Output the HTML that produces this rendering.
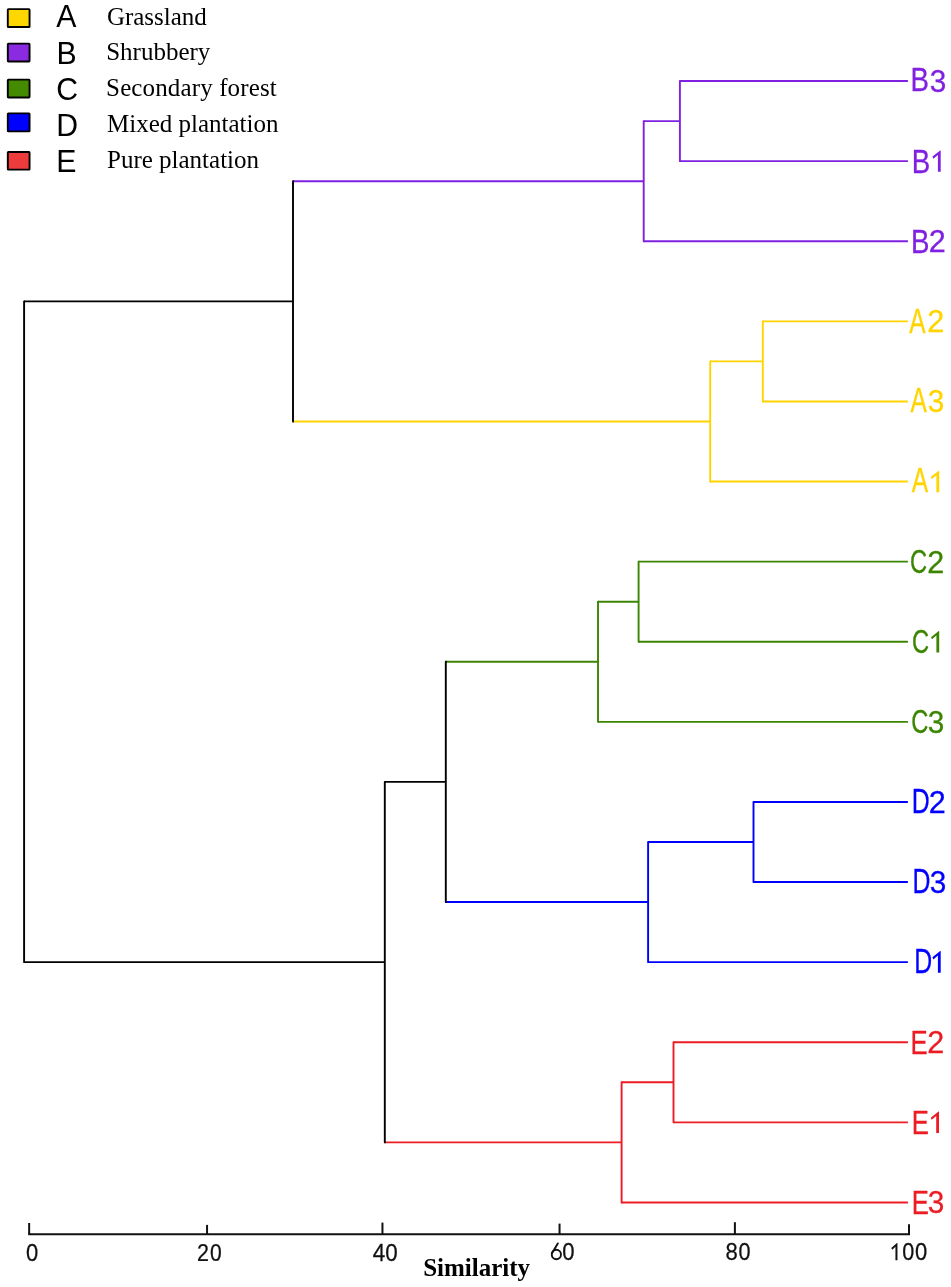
<!DOCTYPE html>
<html><head><meta charset="utf-8"><style>
html,body{margin:0;padding:0;background:#fff;}
body{width:951px;height:1287px;overflow:hidden;}
svg{display:block;will-change:transform;}
text{font-family:"Liberation Sans",sans-serif;}
.ds{font-family:"Liberation Serif",serif;font-size:25px;fill:#000;}
.ttl{font-family:"Liberation Serif",serif;font-size:25px;font-weight:bold;fill:#000;}
</style></head><body>
<svg width="951" height="1287" viewBox="0 0 951 1287">
<g stroke-width="1.9" stroke-linecap="butt" stroke-linejoin="round" fill="none">
<line x1="679.90" y1="81.05" x2="907.90" y2="81.05" stroke="#8020e0"/>
<line x1="679.90" y1="161.15" x2="907.90" y2="161.15" stroke="#8020e0"/>
<line x1="643.70" y1="121.10" x2="679.90" y2="121.10" stroke="#8020e0"/>
<line x1="643.70" y1="241.25" x2="907.90" y2="241.25" stroke="#8020e0"/>
<line x1="762.80" y1="321.35" x2="907.90" y2="321.35" stroke="#ffd400"/>
<line x1="762.80" y1="401.45" x2="907.90" y2="401.45" stroke="#ffd400"/>
<line x1="710.20" y1="361.40" x2="762.80" y2="361.40" stroke="#ffd400"/>
<line x1="710.20" y1="481.55" x2="907.90" y2="481.55" stroke="#ffd400"/>
<line x1="293.00" y1="181.18" x2="643.70" y2="181.18" stroke="#8020e0"/>
<line x1="293.00" y1="421.48" x2="710.20" y2="421.48" stroke="#ffd400"/>
<line x1="638.60" y1="561.65" x2="907.90" y2="561.65" stroke="#3c8500"/>
<line x1="638.60" y1="641.75" x2="907.90" y2="641.75" stroke="#3c8500"/>
<line x1="598.00" y1="601.70" x2="638.60" y2="601.70" stroke="#3c8500"/>
<line x1="598.00" y1="721.85" x2="907.90" y2="721.85" stroke="#3c8500"/>
<line x1="753.50" y1="801.95" x2="907.90" y2="801.95" stroke="#0000ff"/>
<line x1="753.50" y1="882.05" x2="907.90" y2="882.05" stroke="#0000ff"/>
<line x1="648.10" y1="842.00" x2="753.50" y2="842.00" stroke="#0000ff"/>
<line x1="648.10" y1="962.15" x2="907.90" y2="962.15" stroke="#0000ff"/>
<line x1="445.80" y1="661.77" x2="598.00" y2="661.77" stroke="#3c8500"/>
<line x1="445.80" y1="902.07" x2="648.10" y2="902.07" stroke="#0000ff"/>
<line x1="673.50" y1="1042.25" x2="907.90" y2="1042.25" stroke="#eb1c24"/>
<line x1="673.50" y1="1122.35" x2="907.90" y2="1122.35" stroke="#eb1c24"/>
<line x1="621.60" y1="1082.30" x2="673.50" y2="1082.30" stroke="#eb1c24"/>
<line x1="621.60" y1="1202.45" x2="907.90" y2="1202.45" stroke="#eb1c24"/>
<line x1="384.80" y1="781.92" x2="445.80" y2="781.92" stroke="#000000"/>
<line x1="384.80" y1="1142.38" x2="621.60" y2="1142.38" stroke="#eb1c24"/>
<line x1="24.10" y1="301.33" x2="293.00" y2="301.33" stroke="#000000"/>
<line x1="24.10" y1="962.15" x2="384.80" y2="962.15" stroke="#000000"/>
<path d="M680.85,81.05H679.90V161.15H680.85" stroke="#8020e0"/>
<path d="M644.65,121.10H643.70V241.25H644.65" stroke="#8020e0"/>
<path d="M763.75,321.35H762.80V401.45H763.75" stroke="#ffd400"/>
<path d="M711.15,361.40H710.20V481.55H711.15" stroke="#ffd400"/>
<path d="M293.95,181.18H293.00V421.48H293.95" stroke="#000000"/>
<path d="M639.55,561.65H638.60V641.75H639.55" stroke="#3c8500"/>
<path d="M598.95,601.70H598.00V721.85H598.95" stroke="#3c8500"/>
<path d="M754.45,801.95H753.50V882.05H754.45" stroke="#0000ff"/>
<path d="M649.05,842.00H648.10V962.15H649.05" stroke="#0000ff"/>
<path d="M446.75,661.77H445.80V902.07H446.75" stroke="#000000"/>
<path d="M674.45,1042.25H673.50V1122.35H674.45" stroke="#eb1c24"/>
<path d="M622.55,1082.30H621.60V1202.45H622.55" stroke="#eb1c24"/>
<path d="M385.75,781.92H384.80V1142.38H385.75" stroke="#000000"/>
<path d="M25.05,301.33H24.10V962.15H25.05" stroke="#000000"/>
</g>
<text transform="translate(910.56,91.33) scale(0.815,1)" font-size="33.96" fill="#8020e0" stroke="#8020e0" stroke-width="0.3">B</text>
<text transform="translate(929.72,91.66) scale(0.956,1)" font-size="31.10" fill="#8020e0" stroke="#8020e0" stroke-width="0.3">3</text>
<text transform="translate(911.81,173.03) scale(0.815,1)" font-size="33.96" fill="#8020e0" stroke="#8020e0" stroke-width="0.3">B</text>
<path d="M940.20,150.40 L940.70,150.40 L940.70,171.80 L937.90,171.80 L937.90,154.89 L933.40,158.75 L932.40,156.61 Z" fill="#8020e0"/>
<text transform="translate(911.06,252.63) scale(0.815,1)" font-size="33.96" fill="#8020e0" stroke="#8020e0" stroke-width="0.3">B</text>
<text transform="translate(928.80,251.80) scale(0.988,1)" font-size="30.93" fill="#8020e0" stroke="#8020e0" stroke-width="0.3">2</text>
<text transform="translate(909.22,333.47) scale(0.705,1)" font-size="34.79" fill="#ffd400" stroke="#ffd400" stroke-width="0.3">A</text>
<text transform="translate(927.30,332.15) scale(0.988,1)" font-size="30.93" fill="#ffd400" stroke="#ffd400" stroke-width="0.3">2</text>
<text transform="translate(910.62,412.17) scale(0.705,1)" font-size="34.79" fill="#ffd400" stroke="#ffd400" stroke-width="0.3">A</text>
<text transform="translate(927.87,411.91) scale(0.956,1)" font-size="31.10" fill="#ffd400" stroke="#ffd400" stroke-width="0.3">3</text>
<text transform="translate(911.82,492.17) scale(0.705,1)" font-size="34.79" fill="#ffd400" stroke="#ffd400" stroke-width="0.3">A</text>
<path d="M938.70,470.70 L939.20,470.70 L939.20,492.20 L936.40,492.20 L936.40,475.22 L931.70,479.09 L930.70,476.94 Z" fill="#ffd400"/>
<text transform="translate(910.10,572.67) scale(0.699,1)" font-size="33.90" fill="#3c8500" stroke="#3c8500" stroke-width="0.3">C</text>
<text transform="translate(927.20,572.50) scale(0.988,1)" font-size="30.93" fill="#3c8500" stroke="#3c8500" stroke-width="0.3">2</text>
<text transform="translate(911.90,653.37) scale(0.699,1)" font-size="33.90" fill="#3c8500" stroke="#3c8500" stroke-width="0.3">C</text>
<path d="M938.70,630.90 L939.20,630.90 L939.20,652.50 L936.40,652.50 L936.40,635.44 L932.00,639.32 L931.00,637.16 Z" fill="#3c8500"/>
<text transform="translate(911.30,732.67) scale(0.699,1)" font-size="33.90" fill="#3c8500" stroke="#3c8500" stroke-width="0.3">C</text>
<text transform="translate(927.87,732.51) scale(0.956,1)" font-size="31.10" fill="#3c8500" stroke="#3c8500" stroke-width="0.3">3</text>
<text transform="translate(911.79,813.38) scale(0.723,1)" font-size="34.40" fill="#0000ff" stroke="#0000ff" stroke-width="0.3">D</text>
<text transform="translate(928.80,812.70) scale(0.988,1)" font-size="30.93" fill="#0000ff" stroke="#0000ff" stroke-width="0.3">2</text>
<text transform="translate(912.39,892.93) scale(0.723,1)" font-size="34.40" fill="#0000ff" stroke="#0000ff" stroke-width="0.3">D</text>
<text transform="translate(929.72,892.66) scale(0.956,1)" font-size="31.10" fill="#0000ff" stroke="#0000ff" stroke-width="0.3">3</text>
<text transform="translate(914.19,973.48) scale(0.723,1)" font-size="34.40" fill="#0000ff" stroke="#0000ff" stroke-width="0.3">D</text>
<path d="M940.20,950.90 L940.70,950.90 L940.70,972.70 L937.90,972.70 L937.90,955.48 L933.40,959.40 L932.40,957.22 Z" fill="#0000ff"/>
<text transform="translate(910.42,1053.97) scale(0.758,1)" font-size="33.92" fill="#eb1c24" stroke="#eb1c24" stroke-width="0.3">E</text>
<text transform="translate(927.20,1053.05) scale(0.988,1)" font-size="30.93" fill="#eb1c24" stroke="#eb1c24" stroke-width="0.3">2</text>
<text transform="translate(911.82,1133.62) scale(0.758,1)" font-size="33.92" fill="#eb1c24" stroke="#eb1c24" stroke-width="0.3">E</text>
<path d="M938.50,1111.40 L939.00,1111.40 L939.00,1133.00 L936.20,1133.00 L936.20,1115.94 L931.70,1119.82 L930.70,1117.66 Z" fill="#eb1c24"/>
<text transform="translate(911.82,1214.22) scale(0.758,1)" font-size="33.92" fill="#eb1c24" stroke="#eb1c24" stroke-width="0.3">E</text>
<text transform="translate(927.87,1212.86) scale(0.956,1)" font-size="31.10" fill="#eb1c24" stroke="#eb1c24" stroke-width="0.3">3</text>
<line x1="28.2" y1="1234.3" x2="910" y2="1234.3" stroke="#111" stroke-width="2.1"/>
<line x1="29.15" y1="1223.0" x2="29.15" y2="1234.3" stroke="#111" stroke-width="2"/>
<line x1="207.05" y1="1224.9" x2="207.05" y2="1234.3" stroke="#111" stroke-width="2"/>
<line x1="382.45" y1="1222.6" x2="382.45" y2="1234.3" stroke="#111" stroke-width="2"/>
<line x1="559.55" y1="1223.6" x2="559.55" y2="1234.3" stroke="#111" stroke-width="2"/>
<line x1="734.9" y1="1222.2" x2="734.9" y2="1234.3" stroke="#111" stroke-width="2"/>
<line x1="909.0" y1="1224.2" x2="909.0" y2="1234.3" stroke="#111" stroke-width="2"/>
<text transform="translate(25.99,1261.41) scale(0.928,1)" font-size="23.70" fill="#111" stroke="#111" stroke-width="0.25">0</text>
<text transform="translate(196.98,1261.42) scale(0.906,1)" font-size="23.70" fill="#111" stroke="#111" stroke-width="0.25">2</text>
<text transform="translate(209.89,1261.31) scale(0.889,1)" font-size="23.70" fill="#111" stroke="#111" stroke-width="0.25">0</text>
<text transform="translate(372.71,1260.65) scale(0.950,1)" font-size="23.70" fill="#111" stroke="#111" stroke-width="0.25">4</text>
<text transform="translate(385.27,1260.81) scale(0.945,1)" font-size="23.70" fill="#111" stroke="#111" stroke-width="0.25">0</text>
<g fill="none" stroke="#111" stroke-width="1.9" stroke-linecap="round"><ellipse cx="556.36" cy="1254.5" rx="4.6" ry="4.7"/><path d="M557.8,1243.4 L552.1,1253.0"/></g>
<text transform="translate(562.35,1259.76) scale(0.933,1)" font-size="23.70" fill="#111" stroke="#111" stroke-width="0.25">0</text>
<text transform="translate(725.61,1260.06) scale(0.931,1)" font-size="23.70" fill="#111" stroke="#111" stroke-width="0.25">8</text>
<text transform="translate(738.53,1260.06) scale(0.914,1)" font-size="23.70" fill="#111" stroke="#111" stroke-width="0.25">0</text>
<path d="M896.95,1243.05 L897.45,1243.05 L897.45,1260.25 L895.45,1260.25 L895.45,1246.66 L892.25,1249.76 L891.25,1248.04 Z" fill="#111"/>
<text transform="translate(902.29,1259.76) scale(0.912,1)" font-size="23.70" fill="#111" stroke="#111" stroke-width="0.25">0</text>
<text transform="translate(914.88,1259.76) scale(0.929,1)" font-size="23.70" fill="#111" stroke="#111" stroke-width="0.25">0</text>
<rect x="7.80" y="9.10" width="21.75" height="17.95" rx="0.6" fill="#ffd700" stroke="#000" stroke-width="1.9"/>
<rect x="7.80" y="43.65" width="21.75" height="17.80" rx="0.6" fill="#8a2be2" stroke="#000" stroke-width="1.9"/>
<rect x="7.80" y="79.65" width="21.75" height="17.80" rx="0.6" fill="#458b00" stroke="#000" stroke-width="1.9"/>
<rect x="7.80" y="113.35" width="21.75" height="18.00" rx="0.6" fill="#0000ff" stroke="#000" stroke-width="1.9"/>
<rect x="7.80" y="151.95" width="21.75" height="17.70" rx="0.6" fill="#ee3b3b" stroke="#000" stroke-width="1.9"/>
<text transform="translate(56.37,27.39) scale(0.960,1)" font-size="31.50" fill="#000">A</text>
<text transform="translate(56.47,63.69) scale(0.960,1)" font-size="31.50" fill="#000">B</text>
<text transform="translate(56.29,99.69) scale(0.960,1)" font-size="31.50" fill="#000">C</text>
<text transform="translate(56.36,135.89) scale(0.960,1)" font-size="31.50" fill="#000">D</text>
<text transform="translate(56.22,172.04) scale(0.960,1)" font-size="31.50" fill="#000">E</text>
<text x="106.9" y="25.2" class="ds">Grassland</text>
<text x="106.2" y="60.3" class="ds">Shrubbery</text>
<text x="106.1" y="96.0" class="ds" style="letter-spacing:0.13px">Secondary forest</text>
<text x="107.0" y="131.9" class="ds">Mixed plantation</text>
<text x="107.0" y="167.5" class="ds">Pure plantation</text>
<text x="476.6" y="1275.8" class="ttl" text-anchor="middle">Similarity</text>
</svg>
</body></html>
